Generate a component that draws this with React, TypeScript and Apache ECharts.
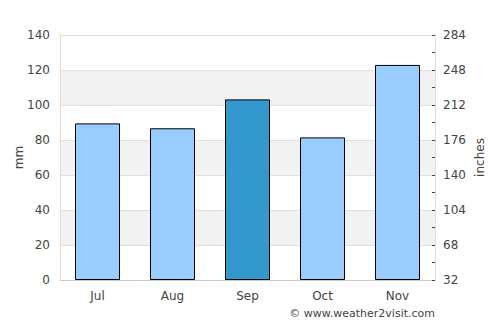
import React, { useEffect, useRef } from "react";
import * as echarts from "echarts";

const months = ["Jul", "Aug", "Sep", "Oct", "Nov"];
const rainfallMm = [89.5, 86.7, 103.2, 81.5, 122.9];
const highlightIndex = 2;
const leftTicks = [0, 20, 40, 60, 80, 100, 120, 140];

export default function App() {
  const ref = useRef<HTMLDivElement>(null);
  useEffect(() => {
    if (!ref.current) return;
    const chart = echarts.init(ref.current, null, { renderer: "svg" });
    const font = "DejaVu Sans, Verdana, sans-serif";
    chart.setOption({
      animation: false,
      textStyle: { fontFamily: font },
      grid: {
        left: 60,
        right: 65,
        top: 35,
        bottom: 45,
        containLabel: false,
        outerBoundsMode: "none",
      },
      xAxis: {
        type: "category",
        data: months,
        axisLine: { show: true, lineStyle: { color: "#cccccc", width: 1 } },
        axisTick: { show: false },
        axisLabel: { color: "#444", fontSize: 12, margin: 10, fontFamily: font },
      },
      yAxis: [
        {
          type: "value",
          min: leftTicks[0],
          max: leftTicks[leftTicks.length - 1],
          interval: 20,
          name: "mm",
          nameLocation: "middle",
          nameGap: 35,
          nameMoveOverlap: false,
          nameTextStyle: { color: "#444", fontSize: 12, fontFamily: font },
          axisLine: { show: true, lineStyle: { color: "#dddddd" } },
          axisTick: { show: false },
          axisLabel: { color: "#444", fontSize: 12, margin: 10, fontFamily: font },
          splitLine: { show: true, lineStyle: { color: "#e0e0e0", width: 1 } },
          splitArea: { show: true, areaStyle: { color: ["#ffffff", "#f2f2f2"] } },
        },
        {
          type: "value",
          min: leftTicks[0],
          max: leftTicks[leftTicks.length - 1],
          interval: 20,
          name: "inches",
          nameLocation: "middle",
          nameGap: 39,
          nameMoveOverlap: false,
          nameTextStyle: { color: "#444", fontSize: 12, fontFamily: font },
          position: "right",
          axisLine: { show: true, lineStyle: { color: "#dddddd" } },
          axisTick: { show: true, inside: true, length: 3, lineStyle: { color: "#444" } },
          minorTick: { show: true, splitNumber: 2, length: 3, lineStyle: { color: "#444" } },
          axisLabel: {
            color: "#444",
            fontSize: 12,
            margin: 8,
            fontFamily: font,
            formatter: (v: number) => String(Math.round(v * 1.8 + 32)),
          },
          splitLine: { show: false },
        },
      ],
      series: [
        {
          type: "bar",
          data: rainfallMm.map((v, i) => ({
            value: v,
            itemStyle: { color: i === highlightIndex ? "#3399cc" : "#99ccff" },
          })),
          barWidth: "60%",
          itemStyle: { borderColor: "#000000", borderWidth: 1 },
        },
      ],
      graphic: [
        {
          type: "text",
          right: 65,
          top: 308,
          style: {
            text: "© www.weather2visit.com",
            fill: "#444",
            font: `11px ${font}`,
          },
        },
      ],
    });
    return () => chart.dispose();
  }, []);
  return (
    <div
      ref={ref}
      style={{ position: "fixed", left: 0, top: 0, width: 500, height: 325, background: "#fff" }}
    />
  );
}
